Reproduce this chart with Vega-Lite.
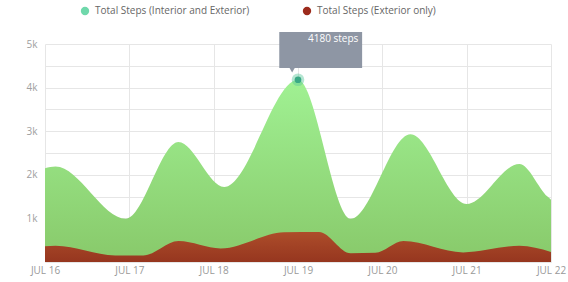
{
  "$schema": "https://vega.github.io/schema/vega-lite/v6.json",
  "width": 506,
  "height": 218,
  "autosize": {"type": "none"},
  "padding": {"left": 45, "top": 44, "right": 17, "bottom": 20},
  "background": "#ffffff",
  "config": {
    "font": "Open Sans",
    "view": {"stroke": null}
  },
  "datasets": {
    "interior": [
      {"t": "2023-07-16T00:00:00Z", "steps": 2150},
      {"t": "2023-07-16T03:00:00Z", "steps": 2190},
      {"t": "2023-07-16T23:00:00Z", "steps": 990},
      {"t": "2023-07-17T14:00:00Z", "steps": 2750},
      {"t": "2023-07-18T03:00:00Z", "steps": 1720},
      {"t": "2023-07-19T00:00:00Z", "steps": 4180},
      {"t": "2023-07-19T15:00:00Z", "steps": 990},
      {"t": "2023-07-20T08:00:00Z", "steps": 2930},
      {"t": "2023-07-21T00:00:00Z", "steps": 1330},
      {"t": "2023-07-21T15:00:00Z", "steps": 2250},
      {"t": "2023-07-21T23:00:00Z", "steps": 1500},
      {"t": "2023-07-22T00:00:00Z", "steps": 1430}
    ],
    "exterior": [
      {"t": "2023-07-16T00:00:00Z", "steps": 360},
      {"t": "2023-07-16T03:00:00Z", "steps": 370},
      {"t": "2023-07-16T20:00:00Z", "steps": 150},
      {"t": "2023-07-17T04:00:00Z", "steps": 150},
      {"t": "2023-07-17T14:00:00Z", "steps": 480},
      {"t": "2023-07-18T02:00:00Z", "steps": 310},
      {"t": "2023-07-18T20:00:00Z", "steps": 680},
      {"t": "2023-07-19T06:00:00Z", "steps": 690},
      {"t": "2023-07-19T15:00:00Z", "steps": 200},
      {"t": "2023-07-19T22:00:00Z", "steps": 210},
      {"t": "2023-07-20T06:00:00Z", "steps": 480},
      {"t": "2023-07-20T23:00:00Z", "steps": 220},
      {"t": "2023-07-21T15:00:00Z", "steps": 370},
      {"t": "2023-07-22T00:00:00Z", "steps": 230}
    ],
    "legend": [
      {"series": "Total Steps (Interior and Exterior)", "t": "2023-07-19T00:00:00Z", "steps": 4180},
      {"series": "Total Steps (Exterior only)", "t": "2023-07-19T00:00:00Z", "steps": 690}
    ]
  },
  "resolve": {"axis": {"y": "independent"}},
  "layer": [
    {
      "data": {"name": "interior"},
      "mark": {
        "type": "area", "interpolate": "monotone",
        "fill": {"gradient": "linear", "x1": 0, "y1": 0, "x2": 0, "y2": 1,
          "stops": [{"offset": 0, "color": "#a0f193"}, {"offset": 1, "color": "#88c96a"}]}
      },
      "encoding": {
        "x": {
          "field": "t", "type": "temporal",
          "scale": {"type": "utc", "domain": [{"year": 2023, "month": 7, "date": 16, "utc": true}, {"year": 2023, "month": 7, "date": 22, "utc": true}]},
          "axis": {
            "title": null,
            "values": [
              {"year": 2023, "month": 7, "date": 16, "utc": true},
              {"year": 2023, "month": 7, "date": 17, "utc": true},
              {"year": 2023, "month": 7, "date": 18, "utc": true},
              {"year": 2023, "month": 7, "date": 19, "utc": true},
              {"year": 2023, "month": 7, "date": 20, "utc": true},
              {"year": 2023, "month": 7, "date": 21, "utc": true},
              {"year": 2023, "month": 7, "date": 22, "utc": true}
            ],
            "labelExpr": "upper(utcFormat(datum.value, '%b %d'))",
            "domain": false, "ticks": false,
            "grid": true, "gridColor": "#e6e6e6", "gridWidth": 1,
            "labelColor": "#999999", "labelFontSize": 10, "labelPadding": 3,
            "labelFlush": false, "labelBound": false, "labelOverlap": false
          }
        },
        "y": {
          "field": "steps", "type": "quantitative",
          "scale": {"domain": [0, 5000], "nice": false},
          "axis": {
            "title": null,
            "orient": "right",
            "tickCount": 10,
            "labels": false,
            "grid": true, "gridColor": "#e6e6e6", "gridWidth": 1,
            "domain": false, "ticks": false
          }
        }
      }
    },
    {
      "data": {"name": "exterior"},
      "mark": {
        "type": "area", "interpolate": "monotone",
        "fill": {"gradient": "linear", "x1": 0, "y1": 0, "x2": 0, "y2": 1,
          "stops": [{"offset": 0, "color": "#ad4d2a"}, {"offset": 1, "color": "#96361f"}]}
      },
      "encoding": {
        "x": {"field": "t", "type": "temporal"},
        "y": {
          "field": "steps", "type": "quantitative",
          "axis": {
            "title": null,
            "orient": "left",
            "values": [1000, 2000, 3000, 4000, 5000],
            "format": "~s",
            "grid": false, "domain": false, "ticks": false,
            "labelColor": "#a0a0a0", "labelFontSize": 10, "labelPadding": 8
          }
        }
      }
    },
    {
      "data": {"name": "legend"},
      "mark": {"type": "point", "filled": true, "shape": "circle", "opacity": 0},
      "encoding": {
        "x": {"field": "t", "type": "temporal"},
        "y": {"field": "steps", "type": "quantitative", "axis": null},
        "fill": {
          "field": "series", "type": "nominal",
          "scale": {"domain": ["Total Steps (Interior and Exterior)", "Total Steps (Exterior only)"], "range": ["#6fd8ab", "#9c2b1c"]},
          "legend": {
            "title": null, "orient": "none", "direction": "horizontal",
            "legendX": 35, "legendY": -38,
            "symbolType": "circle", "symbolSize": 70, "symbolOpacity": 1,
            "symbolStrokeWidth": 0,
            "labelFontSize": 10, "labelColor": "#666666", "labelOffset": 5,
            "columnPadding": 52, "labelLimit": 300
          }
        }
      }
    },
    {
      "data": {"values": [{"t1": "2023-07-18T18:40:00Z", "t2": "2023-07-19T18:15:00Z", "y1": 4450, "y2": 5275}]},
      "mark": {"type": "rect", "fill": "#8a93a1", "opacity": 0.97},
      "encoding": {
        "x": {"field": "t1", "type": "temporal"},
        "x2": {"field": "t2"},
        "y": {"field": "y1", "type": "quantitative", "axis": null},
        "y2": {"field": "y2"}
      }
    },
    {
      "data": {"values": [{"t": "2023-07-18T22:20:00Z", "steps": 4400}]},
      "mark": {"type": "point", "shape": "triangle-down", "filled": true, "size": 30, "fill": "#8a93a1", "opacity": 0.97},
      "encoding": {
        "x": {"field": "t", "type": "temporal"},
        "y": {"field": "steps", "type": "quantitative", "axis": null}
      }
    },
    {
      "data": {"values": [{"t": "2023-07-19T17:10:00Z", "steps": 5110, "label": "4180 steps"}]},
      "mark": {"type": "text", "align": "right", "baseline": "middle", "fontSize": 10, "color": "#ffffff"},
      "encoding": {
        "x": {"field": "t", "type": "temporal"},
        "y": {"field": "steps", "type": "quantitative", "axis": null},
        "text": {"field": "label"}
      }
    },
    {
      "data": {"values": [{"t": "2023-07-19T00:00:00Z", "steps": 4180}]},
      "mark": {"type": "point", "shape": "circle", "filled": true, "size": 160, "fill": "#5cc79b", "opacity": 0.45},
      "encoding": {
        "x": {"field": "t", "type": "temporal"},
        "y": {"field": "steps", "type": "quantitative", "axis": null}
      }
    },
    {
      "data": {"values": [{"t": "2023-07-19T00:00:00Z", "steps": 4180}]},
      "mark": {"type": "point", "shape": "circle", "filled": true, "size": 45, "fill": "#3aa985", "opacity": 1},
      "encoding": {
        "x": {"field": "t", "type": "temporal"},
        "y": {"field": "steps", "type": "quantitative", "axis": null}
      }
    }
  ]
}
